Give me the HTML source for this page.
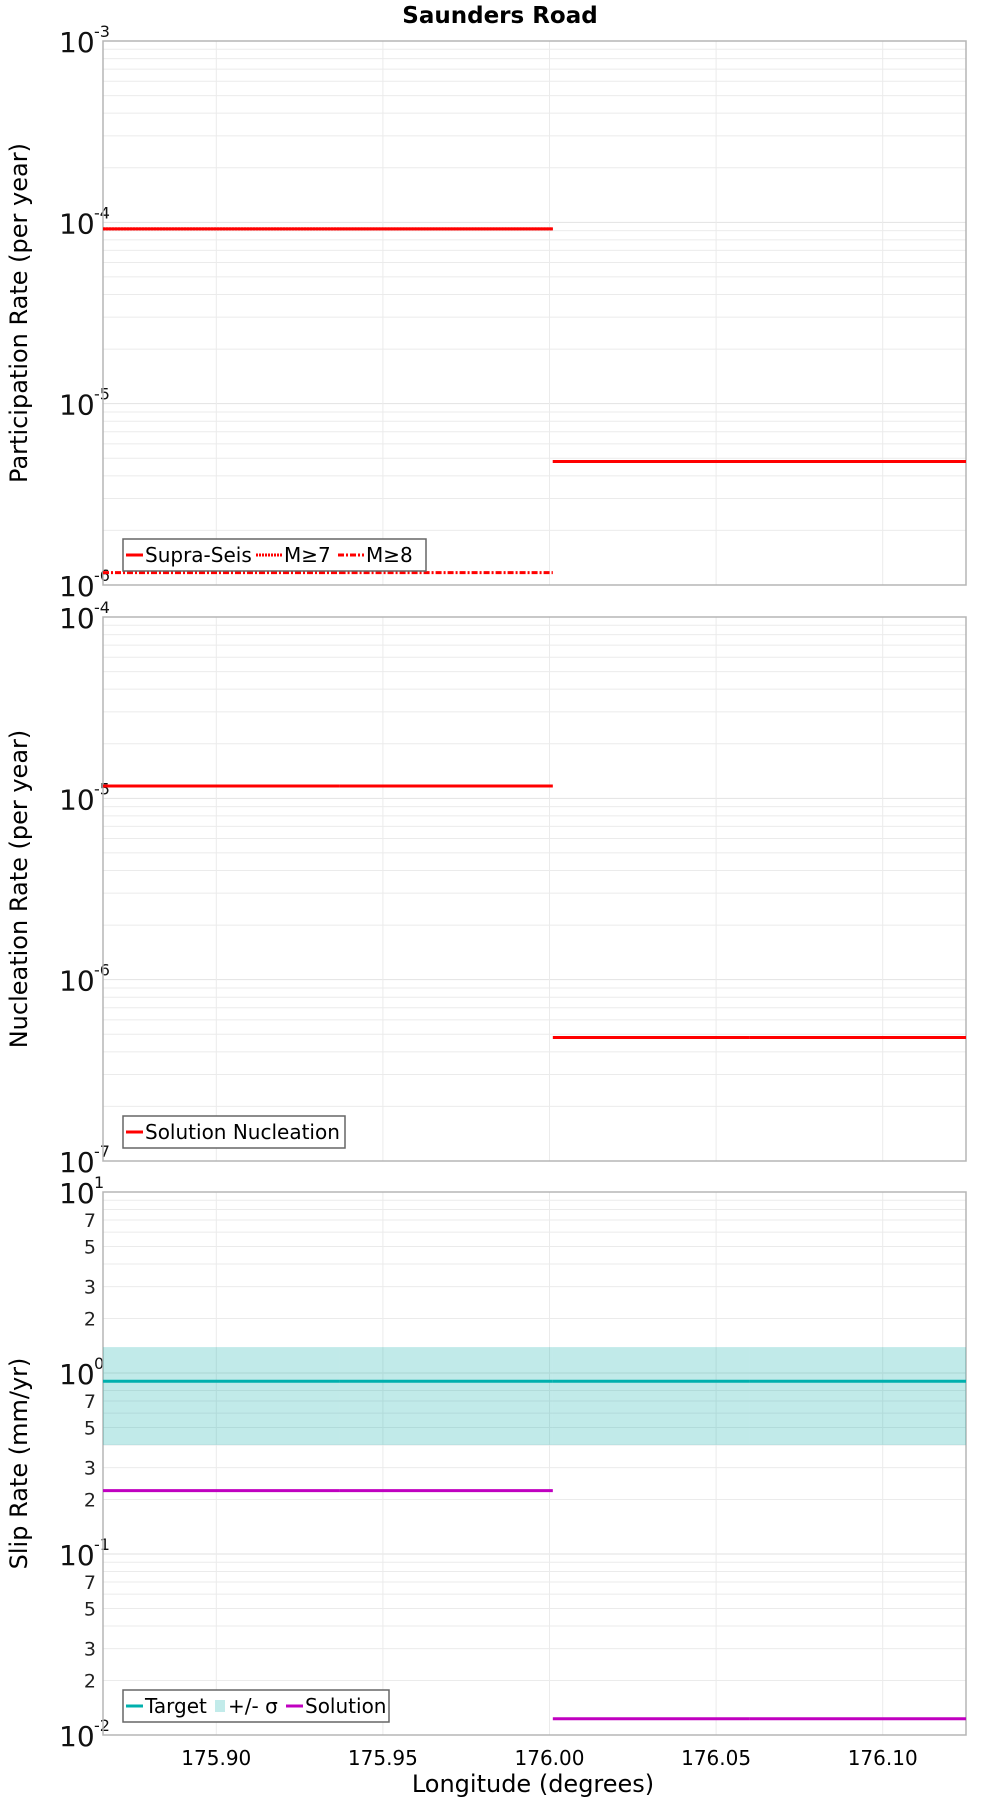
<!DOCTYPE html>
<html><head><meta charset="utf-8"><style>
body{margin:0;background:#fff}
svg{display:block;font-family:"DejaVu Sans","Liberation Sans",sans-serif}
</style></head><body>
<svg id="chart" width="1000" height="1800" viewBox="0 0 1000 1800">
<text x="500" y="23" text-anchor="middle" font-size="23" font-weight="bold">Saunders Road</text>
<text x="533" y="1792" text-anchor="middle" font-size="24">Longitude (degrees)</text>
</svg>
<script>
const xTicks=[175.90,175.95,176.00,176.05,176.10];
const xTickLabels=["175.90","175.95","176.00","176.05","176.10"];
const segStarts=[175.866,175.937,176.001,176.060];
const segEnds=[175.937,176.001,176.060,176.125];
const supraSeis=[9.2e-5,9.2e-5,4.8e-6,4.8e-6];
const m7=[9.2e-5,9.2e-5,4.8e-6,4.8e-6];
const m8=[1.17e-6,1.17e-6,1e-9,1e-9];
const nucleation=[1.17e-5,1.17e-5,4.8e-7,4.8e-7];
const slipTarget=[0.9,0.9,0.9,0.9];
const slipUpper=[1.39,1.39,1.39,1.39];
const slipLower=[0.40,0.40,0.40,0.40];
const slipSolution=[0.224,0.224,0.0123,0.0123];

const NS='http://www.w3.org/2000/svg';
const svg=document.getElementById('chart');
const L=103,R=966,X0=175.866,X1=176.125;
function xs(v){return L+(v-X0)/(X1-X0)*(R-L);}
function mk(t,a,p){const e=document.createElementNS(NS,t);for(const k in a)e.setAttribute(k,a[k]);(p||svg).appendChild(e);return e;}

function panel(top,bot,lo,hi,name,title,minorLabels){
  const g=mk('g',{});
  
  
  const ys=v=>bot-(Math.log10(v)-lo)/(hi-lo)*(bot-top);
  for(let d=lo;d<hi;d++){for(let m=2;m<=9;m++){const y=ys(m*Math.pow(10,d));
    const gl=mk('line',{x1:L,x2:R,y1:y,y2:y,stroke:'#ebebeb','stroke-width':1},g);
    
    
    if(minorLabels&&[2,3,5,7].includes(m)){const t=mk('text',{x:96,y:y+7,'text-anchor':'end','font-size':19,fill:'#222'},g);t.textContent=m;
      
      }
  }}
  for(let d=lo;d<=hi;d++){const y=ys(Math.pow(10,d));
    const gl=mk('line',{x1:L,x2:R,y1:y,y2:y,stroke:'#e2e2e2','stroke-width':1},g);
    
    
    const t=mk('text',{x:59,y:y+11,'font-size':28,fill:'#111'},g);t.textContent='10';
    
    
    const s=mk('text',{x:94,y:y-4,'font-size':16,fill:'#111'},g);s.textContent=String(d);
    
    }
  xTicks.forEach(v=>{const gl=mk('line',{x1:xs(v),x2:xs(v),y1:top,y2:bot,stroke:'#ebebeb','stroke-width':1},g);
    
    });
  const fr=mk('rect',{x:L,y:top,width:R-L,height:bot-top,fill:'none',stroke:'#b5b5b5','stroke-width':1.5},g);
  
  
  const cy=(top+bot)/2;
  const yt=mk('text',{x:27,y:cy,'text-anchor':'middle','font-size':24,transform:`rotate(-90 27 ${cy})`},g);
  yt.textContent=title;
  
  
  return {g,ys,top,bot,lo};
}
function series(p,vals,color,dash,name){
  vals.forEach((v,i)=>{if(v<Math.pow(10,p.lo))return;const y=p.ys(v);
    const a={x1:xs(segStarts[i]),x2:xs(segEnds[i]),y1:y,y2:y,stroke:color,'stroke-width':3};
    if(dash)a['stroke-dasharray']=dash;
    const l=mk('line',a,p.g);
    
    });
}
function legend(p,x,y,w,items){
  const g=mk('g',{},p.g);
  
  
  mk('rect',{x:x,y:y,width:w,height:32,fill:'#fff',stroke:'#666','stroke-width':1.5},g);
  let cx=x+3;
  items.forEach(it=>{
    if(it.band){mk('rect',{x:cx,y:y+10,width:10,height:12,fill:'#c2ebea'},g);cx+=13;}
    else{const a={x1:cx,x2:cx+it.w,y1:y+16,y2:y+16,stroke:it.c,'stroke-width':3};if(it.d)a['stroke-dasharray']=it.d;mk('line',a,g);cx+=it.w+2;}
    const t=mk('text',{x:cx,y:y+23,'font-size':20},g);t.textContent=it.t;
    
    
    cx+=it.tw;
  });
}
const p1=panel(41,585,-6,-3,'participation-panel','Participation Rate (per year)',false);
series(p1,m8,'#ff0000','6,2,2,2','m8-line');
series(p1,supraSeis,'#ff0000',null,'supra-seis-line');
series(p1,m7,'#ff0000','2,1','m7-line');
legend(p1,123,539,303,[{t:'Supra-Seis',c:'#f00',w:17,tw:111},{t:'M≥7',c:'#f00',w:26,d:'2,1',tw:54},{t:'M≥8',c:'#f00',w:26,d:'6,2,2,2',tw:45}]);

const p2=panel(617,1161,-7,-4,'nucleation-panel','Nucleation Rate (per year)',false);
series(p2,nucleation,'#ff0000',null,'nucleation-line');
legend(p2,123,1116,222,[{t:'Solution Nucleation',c:'#f00',w:17,tw:200}]);

const p3=panel(1192,1735,-2,1,'slip-rate-panel','Slip Rate (mm/yr)',true);
slipUpper.forEach((v,i)=>{const y1=p3.ys(v),y2=p3.ys(slipLower[i]);
  const r=mk('rect',{x:xs(segStarts[i]),y:y1,width:xs(segEnds[i])-xs(segStarts[i]),height:y2-y1,fill:'#22b5b0','fill-opacity':0.28},p3.g);
  
  });
series(p3,slipTarget,'#00b0ad',null,'target-line');
series(p3,slipSolution,'#c000c0',null,'solution-line');
legend(p3,123,1690,266,[{t:'Target',c:'#00b0ad',w:17,tw:70},{band:true,t:'+/- σ',tw:58},{t:'Solution',c:'#c000c0',w:17,tw:80}]);

xTicks.forEach((v,i)=>{const t=mk('text',{x:xs(v),y:1765,'text-anchor':'middle','font-size':20});t.textContent=xTickLabels[i];
  
  });
</script>
</body></html>
